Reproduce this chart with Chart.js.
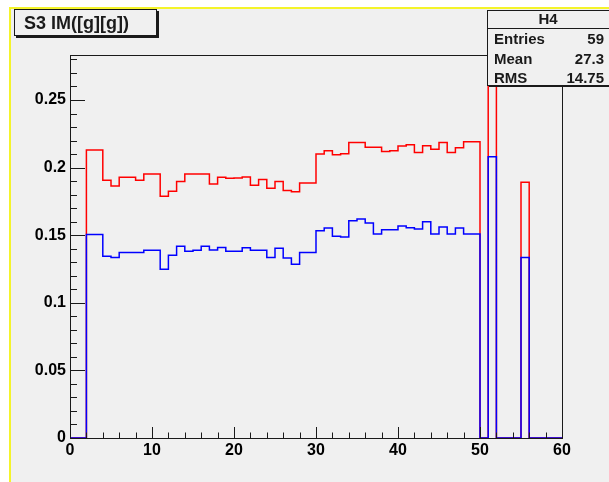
<!DOCTYPE html>
<html lang="en">

<head>

    <meta charset="UTF-8">
    <meta name="viewport" content="width=device-width, initial-scale=1.0">
    <script src="https://cdn.jsdelivr.net/npm/chart.js"></script>
    <title>S3 IM([g][g])</title>

    <style>
        body {
            margin: 0;
            background: #ffffff;
        }

        .grafico_sty {
            width: 609px;
            height: 482px;
        }
    </style>

</head>

<body>

    <div class="grafico_sty">
        <canvas id="grafico_h4" width="609" height="482"></canvas>
    </div>

    <script>

        // bin contents, one value per unit bin from 0 to 60
        const binsAzul = [
            0, 0, 0.1506, 0.1506, 0.1344, 0.1336, 0.1373, 0.1373, 0.1373, 0.1388,
            0.1388, 0.1248, 0.1351, 0.1418, 0.1381, 0.1388, 0.1418, 0.1391, 0.1410, 0.1381,
            0.1381, 0.1408, 0.1388, 0.1388, 0.1336, 0.1403, 0.1331, 0.1285, 0.1373, 0.1373,
            0.1533, 0.1553, 0.1492, 0.1487, 0.1607, 0.1620, 0.1590, 0.1509, 0.1541, 0.1541,
            0.1568, 0.1556, 0.1546, 0.1600, 0.1509, 0.1561, 0.1509, 0.1553, 0.1509, 0.1509,
            0, 0.208, 0, 0, 0, 0.1336, 0, 0, 0, 0
        ];
        const binsVermelho = [
            0, 0, 0.2130, 0.2130, 0.1906, 0.1864, 0.1928, 0.1928, 0.1906, 0.1953,
            0.1953, 0.1788, 0.1825, 0.1898, 0.1953, 0.1953, 0.1953, 0.1879, 0.1928, 0.1921,
            0.1923, 0.1930, 0.1869, 0.1913, 0.1847, 0.1898, 0.1830, 0.1822, 0.1886, 0.1886,
            0.2101, 0.2125, 0.2096, 0.2103, 0.2185, 0.2185, 0.2150, 0.2150, 0.2120, 0.2125,
            0.2160, 0.2170, 0.2111, 0.2162, 0.2135, 0.2185, 0.2111, 0.2147, 0.2192, 0.2192,
            0, 0.30, 0, 0, 0, 0.1891, 0, 0, 0, 0
        ];

        const xMin = 0;
        const xMax = 60;
        const yMax = 0.2833;

        const tituloHist = 'S3 IM([g][g])';
        const nomeStats = 'H4';
        const statsRotulos = ['Entries', 'Mean', 'RMS'];
        const statsValores = ['59', '27.3', '14.75'];

        const fonte = "'Liberation Sans', Arial, sans-serif";

        // histogram outline: each bin value starts at its lower edge
        function pontosHist(bins) {
            const pts = bins.map((v, i) => ({ x: xMin + i, y: v }));
            pts.push({ x: xMax, y: 0 });
            return pts;
        }

        // page background, yellow pad border
        const fundo = {
            id: 'fundo',
            beforeDraw(chart) {
                const c = chart.ctx;
                c.save();
                c.fillStyle = '#ffffff';
                c.fillRect(0, 0, chart.width, chart.height);
                c.fillStyle = '#f0f0f0';
                c.fillRect(10, 8, chart.width, chart.height);
                c.fillStyle = '#f4f42a';
                c.fillRect(9, 7, chart.width, 2);
                c.fillRect(9, 7, 2, chart.height);
                c.restore();
            }
        };

        // frame, inward ticks, title box and stats box
        const moldura = {
            id: 'moldura',
            afterDraw(chart) {
                const c = chart.ctx;
                const a = chart.chartArea;
                const sx = chart.scales.x;
                const sy = chart.scales.y;
                c.save();

                c.strokeStyle = '#1a1a1a';
                c.lineWidth = 1;
                c.strokeRect(Math.round(a.left) + 0.5, Math.round(a.top) + 0.5,
                    Math.round(a.right - a.left), Math.round(a.bottom - a.top));

                c.beginPath();
                for (let v = xMin; v <= xMax + 1e-9; v += 2) {
                    const px = Math.round(sx.getPixelForValue(v)) + 0.5;
                    const len = (v % 10 === 0) ? 11 : 5.5;
                    c.moveTo(px, a.bottom);
                    c.lineTo(px, a.bottom - len);
                }
                for (let k = 0; k * 0.01 <= yMax; k++) {
                    const py = Math.round(sy.getPixelForValue(k * 0.01)) + 0.5;
                    const len = (k % 5 === 0) ? 15 : 7;
                    c.moveTo(a.left, py);
                    c.lineTo(a.left + len, py);
                }
                c.stroke();

                // title box
                c.fillStyle = '#f0f0f0';
                c.fillRect(14, 9, 143, 27);
                c.fillStyle = '#1a1a1a';
                c.fillRect(16, 36, 142, 2);
                c.fillRect(157, 11, 2, 27);
                c.strokeRect(14.5, 9.5, 142, 26);
                c.font = 'bold 18px ' + fonte;
                c.textBaseline = 'middle';
                c.textAlign = 'left';
                c.fillText(tituloHist, 24, 24);

                // stats box
                c.fillStyle = '#f0f0f0';
                c.fillRect(487, 10, 130, 75);
                c.fillStyle = '#1a1a1a';
                c.fillRect(489, 85, 130, 2);
                c.strokeRect(487.5, 10.5, 130, 75);
                c.beginPath();
                c.moveTo(487, 28.5);
                c.lineTo(chart.width, 28.5);
                c.stroke();
                c.font = 'bold 15px ' + fonte;
                c.textAlign = 'center';
                c.fillText(nomeStats, 548, 20);
                statsRotulos.forEach((r, i) => {
                    const yy = 40 + i * 19.5;
                    c.textAlign = 'left';
                    c.fillText(r, 494, yy);
                    c.textAlign = 'right';
                    c.fillText(statsValores[i], 604, yy);
                });

                c.restore();
            }
        };

        const ctx = document.getElementById('grafico_h4');

        const grafico = new Chart(ctx, {
            type: 'line',
            data: {
                datasets: [{
                    label: 'azul',
                    data: pontosHist(binsAzul),
                    borderColor: '#0000ff',
                    borderWidth: 1.5,
                    pointRadius: 0,
                    stepped: true,
                    fill: false
                }, {
                    label: 'vermelho',
                    data: pontosHist(binsVermelho),
                    borderColor: '#ff0000',
                    borderWidth: 1.5,
                    pointRadius: 0,
                    stepped: true,
                    fill: false
                }]
            },
            options: {
                responsive: false,
                animation: false,
                events: [],
                layout: {
                    padding: { left: 0, top: 55, right: 47, bottom: 0 }
                },
                plugins: {
                    legend: { display: false },
                    tooltip: { enabled: false }
                },
                scales: {
                    x: {
                        type: 'linear',
                        min: xMin,
                        max: xMax,
                        afterFit(s) { s.height = 44; },
                        grid: { display: false, drawTicks: false },
                        border: { display: false },
                        ticks: {
                            stepSize: 10,
                            padding: 3,
                            color: '#000000',
                            maxRotation: 0,
                            font: { family: fonte, size: 16, weight: 'bold' }
                        }
                    },
                    y: {
                        min: 0,
                        max: yMax,
                        afterFit(s) { s.width = 70; },
                        grid: { display: false, drawTicks: false },
                        border: { display: false },
                        ticks: {
                            stepSize: 0.05,
                            includeBounds: false,
                            padding: 4,
                            color: '#000000',
                            font: { family: fonte, size: 16, weight: 'bold' },
                            callback: v => String(Number(v.toFixed(2)))
                        }
                    }
                }
            },
            plugins: [fundo, moldura]
        });

    </script>

</body>

</html>
